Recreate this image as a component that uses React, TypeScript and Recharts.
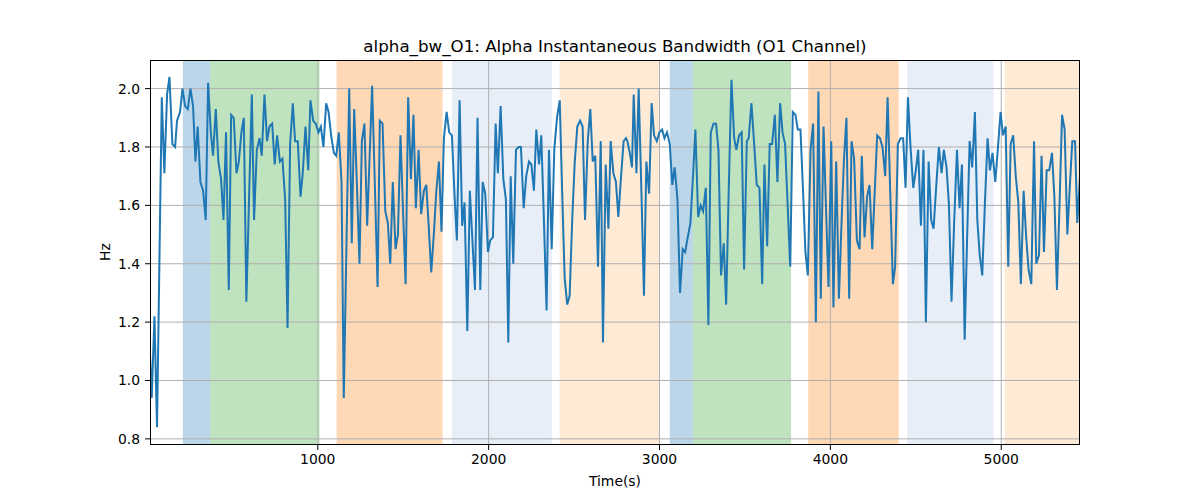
import React from 'react';
import {
  LineChart,
  Line,
  XAxis,
  YAxis,
  ReferenceArea,
  ReferenceLine,
  Label
} from 'recharts';

// sample times (s)
const timeS = [
  18, 28, 44, 59, 87, 102, 118, 132, 149, 165, 176, 194, 208, 223, 239, 255, 270, 284, 297, 313,
  329, 344, 358, 374, 387, 403, 418, 434, 448, 463, 479, 493, 508, 524, 538, 553, 567, 582, 598, 614,
  627, 643, 659, 672, 688, 703, 717,
  733, 748, 762, 778, 793, 809, 823, 838, 854, 867, 883, 899, 912, 928, 944, 957, 973, 988, 1004, 1018,
  1033, 1049, 1063, 1078, 1094, 1108, 1123, 1139, 1152, 1168, 1184, 1199, 1213, 1229, 1244, 1258, 1273, 1289, 1303, 1318,
  1334, 1350, 1363, 1379, 1395,
  1410, 1424, 1439, 1455, 1469, 1484, 1499, 1514, 1529, 1545, 1560, 1574, 1590, 1605, 1621, 1635, 1650, 1664, 1679, 1694,
  1709, 1724, 1738, 1754, 1769, 1785, 1800, 1814, 1830, 1845, 1859, 1875, 1890, 1905, 1920, 1935, 1951, 1965, 1980, 1996,
  2009, 2025, 2041, 2054, 2070, 2086, 2101, 2115,
  2129, 2144, 2160, 2175, 2189, 2205, 2220, 2236, 2250, 2265, 2279, 2295, 2308, 2324, 2339, 2353, 2369, 2384, 2400, 2416,
  2430, 2445, 2460, 2474, 2489, 2504, 2519, 2535, 2550, 2564, 2580, 2595, 2609, 2624, 2640, 2656, 2669, 2685, 2701, 2714,
  2730, 2745, 2759, 2775, 2790, 2804,
  2812, 2826, 2839, 2849, 2865, 2878, 2894, 2909, 2923, 2939, 2954, 2968, 2984, 2999, 3015, 3029, 3044, 3060, 3075, 3089,
  3105, 3120, 3136, 3150, 3165, 3181, 3196, 3210, 3226, 3241, 3255, 3271, 3286, 3300, 3316, 3331, 3345, 3360, 3376, 3390,
  3405, 3421, 3437, 3450, 3466, 3481, 3495, 3511,
  3522, 3538, 3554, 3569, 3585, 3601, 3614, 3630, 3645, 3659, 3675, 3690, 3706, 3720, 3735, 3750, 3765, 3780, 3796, 3809,
  3825, 3840, 3854, 3868, 3884, 3899, 3915, 3930, 3944, 3960, 3974, 3989, 4005, 4018, 4034, 4050, 4064, 4079, 4094, 4110,
  4124, 4139, 4155, 4171, 4184, 4200, 4215, 4229,
  4245, 4259, 4274, 4290, 4305, 4321, 4335, 4350, 4366, 4379, 4395, 4411, 4426, 4440, 4454, 4469, 4485, 4500, 4514, 4530,
  4545, 4559, 4575, 4590, 4604, 4620, 4635, 4651, 4664, 4680, 4694, 4709, 4725, 4741, 4756, 4770, 4786, 4800, 4815, 4830,
  4846, 4860, 4874, 4889, 4904, 4920, 4934,
  4949, 4965, 4981, 4996, 5010, 5026, 5041, 5055, 5070, 5085, 5100, 5115, 5131, 5145, 5160, 5176, 5192, 5205, 5221, 5236,
  5250, 5266, 5281, 5297, 5311, 5326, 5341, 5356, 5371, 5387, 5401, 5416, 5432, 5445, 5461
];

// alpha instantaneous bandwidth (Hz)
const bandwidthHz = [
  1.09, 0.94, 1.22, 0.84, 1.97, 1.71, 1.98, 2.04, 1.81, 1.80, 1.89, 1.92, 2.00, 1.94, 1.93, 2.00, 1.94, 1.75, 1.87, 1.68,
  1.65, 1.55, 2.02, 1.85, 1.77, 1.93, 1.75, 1.69, 1.55, 1.85, 1.31, 1.91, 1.90, 1.71, 1.75, 1.85, 1.90, 1.27, 1.63, 1.98,
  1.55, 1.79, 1.83, 1.77, 1.98, 1.82, 1.87,
  1.88, 1.74, 1.84, 1.75, 1.76, 1.62, 1.18, 1.81, 1.95, 1.82, 1.82, 1.63, 1.71, 1.87, 1.72, 1.96, 1.89, 1.88, 1.85, 1.87,
  1.80, 1.95, 1.92, 1.84, 1.78, 1.77, 1.85, 1.68, 0.94, 1.47, 2.00, 1.47, 1.93, 1.67, 1.40, 1.82, 1.88, 1.53, 1.76, 2.01,
  1.67, 1.32, 1.89, 1.88, 1.58,
  1.54, 1.40, 1.68, 1.45, 1.50, 1.84, 1.58, 1.33, 1.97, 1.69, 1.91, 1.59, 1.79, 1.57, 1.65, 1.67, 1.52, 1.37, 1.50, 1.65,
  1.75, 1.51, 1.83, 1.92, 1.85, 1.84, 1.64, 1.48, 1.96, 1.53, 1.61, 1.17, 1.65, 1.48, 1.31, 1.90, 1.31, 1.68, 1.64, 1.44,
  1.48, 1.49, 1.88, 1.71, 1.94, 1.69, 1.62, 1.13,
  1.70, 1.40, 1.79, 1.80, 1.80, 1.59, 1.70, 1.75, 1.74, 1.65, 1.86, 1.74, 1.84, 1.54, 1.24, 1.79, 1.45, 1.79, 1.90, 1.96,
  1.65, 1.35, 1.26, 1.29, 1.55, 1.75, 1.87, 1.89, 1.87, 1.55, 1.82, 1.93, 1.75, 1.77, 1.39, 1.82, 1.13, 1.74, 1.52, 1.82,
  1.71, 1.68, 1.56, 1.70, 1.82, 1.83,
  1.82, 1.78, 1.73, 1.98, 1.71, 2.00, 1.65, 1.29, 1.75, 1.64, 1.95, 1.84, 1.82, 1.85, 1.86, 1.83, 1.85, 1.81, 1.67, 1.73,
  1.62, 1.30, 1.45, 1.44, 1.49, 1.54, 1.70, 1.86, 1.56, 1.60, 1.58, 1.66, 1.19, 1.85, 1.88, 1.88, 1.79, 1.36, 1.47, 1.26,
  1.65, 2.03, 1.83, 1.79, 1.84, 1.85, 1.38, 1.82,
  1.83, 1.95, 1.81, 1.67, 1.66, 1.33, 1.74, 1.46, 1.81, 1.81, 1.91, 1.68, 1.95, 1.85, 1.81, 1.60, 1.39, 1.92, 1.91, 1.86,
  1.86, 1.65, 1.44, 1.36, 1.79, 1.88, 1.20, 1.99, 1.28, 1.87, 1.60, 1.32, 1.82, 1.25, 1.75, 1.28, 1.52, 1.75, 1.90, 1.28,
  1.82, 1.76, 1.48, 1.45, 1.77, 1.49, 1.63, 1.67,
  1.45, 1.64, 1.84, 1.83, 1.80, 1.70, 1.97, 1.65, 1.33, 1.39, 1.81, 1.83, 1.83, 1.66, 1.97, 1.80, 1.66, 1.72, 1.79, 1.53,
  1.79, 1.20, 1.75, 1.55, 1.52, 1.67, 1.80, 1.71, 1.79, 1.73, 1.60, 1.27, 1.55, 1.79, 1.59, 1.74, 1.14, 1.48, 1.82, 1.73,
  1.92, 1.55, 1.43, 1.36, 1.60, 1.83, 1.72,
  1.78, 1.68, 1.80, 1.92, 1.84, 1.87, 1.39, 1.81, 1.84, 1.70, 1.61, 1.33, 1.65, 1.50, 1.38, 1.33, 1.82, 1.40, 1.43, 1.77,
  1.44, 1.72, 1.72, 1.78, 1.63, 1.31, 1.60, 1.91, 1.86, 1.50, 1.66, 1.82, 1.82, 1.54, 1.70
];

// shaded state spans
const spanStart = [210, 370, 1110, 1785, 2415, 3060, 3195, 3870, 4450, 5020];
const spanEnd = [370, 1010, 1730, 2370, 3000, 3195, 3770, 4400, 4955, 5461];
const spanColor = [
  '#1f77b4', '#2ca02c', '#ff7f0e', '#aec7e8', '#ffbb78',
  '#1f77b4', '#2ca02c', '#ff7f0e', '#aec7e8', '#ffbb78'
];

const xTicks = [1000, 2000, 3000, 4000, 5000];
const yTicks = [0.8, 1.0, 1.2, 1.4, 1.6, 1.8, 2.0];

const data = timeS.map((t, i) => ({ time: t, hz: bandwidthHz[i] }));

const FONT = '"DejaVu Sans", sans-serif';
const tickStyle = { fontSize: 13.9, fill: '#000', fontFamily: FONT };

export default function App() {
  return (
    <div style={{ position: 'absolute', left: 0, top: 0, width: 1200, height: 500, background: '#fff', fontFamily: FONT }}>
      <div
        style={{
          position: 'absolute',
          left: 150,
          width: 930,
          top: 35,
          height: 22,
          lineHeight: '22px',
          textAlign: 'center',
          fontSize: 16.7,
          color: '#000'
        }}
      >
        alpha_bw_O1: Alpha Instantaneous Bandwidth (O1 Channel)
      </div>
      <LineChart
        width={1200}
        height={500}
        data={data}
        margin={{ top: 60, right: 120, bottom: 0, left: 0 }}
      >
        <XAxis
          dataKey="time"
          type="number"
          domain={[18, 5461]}
          ticks={xTicks}
          allowDataOverflow
          axisLine={false}
          tickSize={5}
          tickMargin={4}
          height={55}
          tick={tickStyle}
          tickLine={{ stroke: '#000', strokeWidth: 1 }}
        >
          <Label
            value="Time(s)"
            position="insideBottom"
            offset={14}
            style={{ fontSize: 13.9, fill: '#000', fontFamily: FONT }}
          />
        </XAxis>
        <YAxis
          type="number"
          domain={[0.779, 2.098]}
          ticks={yTicks}
          allowDataOverflow
          axisLine={false}
          width={150}
          tickSize={5}
          tickMargin={5}
          tick={tickStyle}
          tickLine={{ stroke: '#000', strokeWidth: 1 }}
          tickFormatter={(v: number) => v.toFixed(1)}
        >
          <Label
            content={() => (
              <text
                x={105}
                y={252}
                transform="rotate(-90 105 252)"
                textAnchor="middle"
                dominantBaseline="central"
                style={{ fontSize: 13.9, fill: '#000', fontFamily: FONT }}
              >
                Hz
              </text>
            )}
          />
        </YAxis>
        {spanStart.map((s, i) => (
          <ReferenceArea
            key={'span' + i}
            x1={s}
            x2={spanEnd[i]}
            fill={spanColor[i]}
            fillOpacity={0.3}
            stroke="none"
            ifOverflow="hidden"
          />
        ))}
        {xTicks.map((t) => (
          <ReferenceLine key={'gx' + t} x={t} stroke="#b0b0b0" strokeWidth={1} />
        ))}
        {yTicks.map((t) => (
          <ReferenceLine key={'gy' + t} y={t} stroke="#b0b0b0" strokeWidth={1} />
        ))}
        <Line
          type="linear"
          dataKey="hz"
          stroke="#1f77b4"
          strokeWidth={2}
          dot={false}
          activeDot={false}
          isAnimationActive={false}
        />
      </LineChart>
      <div
        style={{
          position: 'absolute',
          left: 150,
          top: 60,
          width: 930,
          height: 385,
          boxSizing: 'border-box',
          border: '1px solid #000',
          pointerEvents: 'none'
        }}
      />
    </div>
  );
}
